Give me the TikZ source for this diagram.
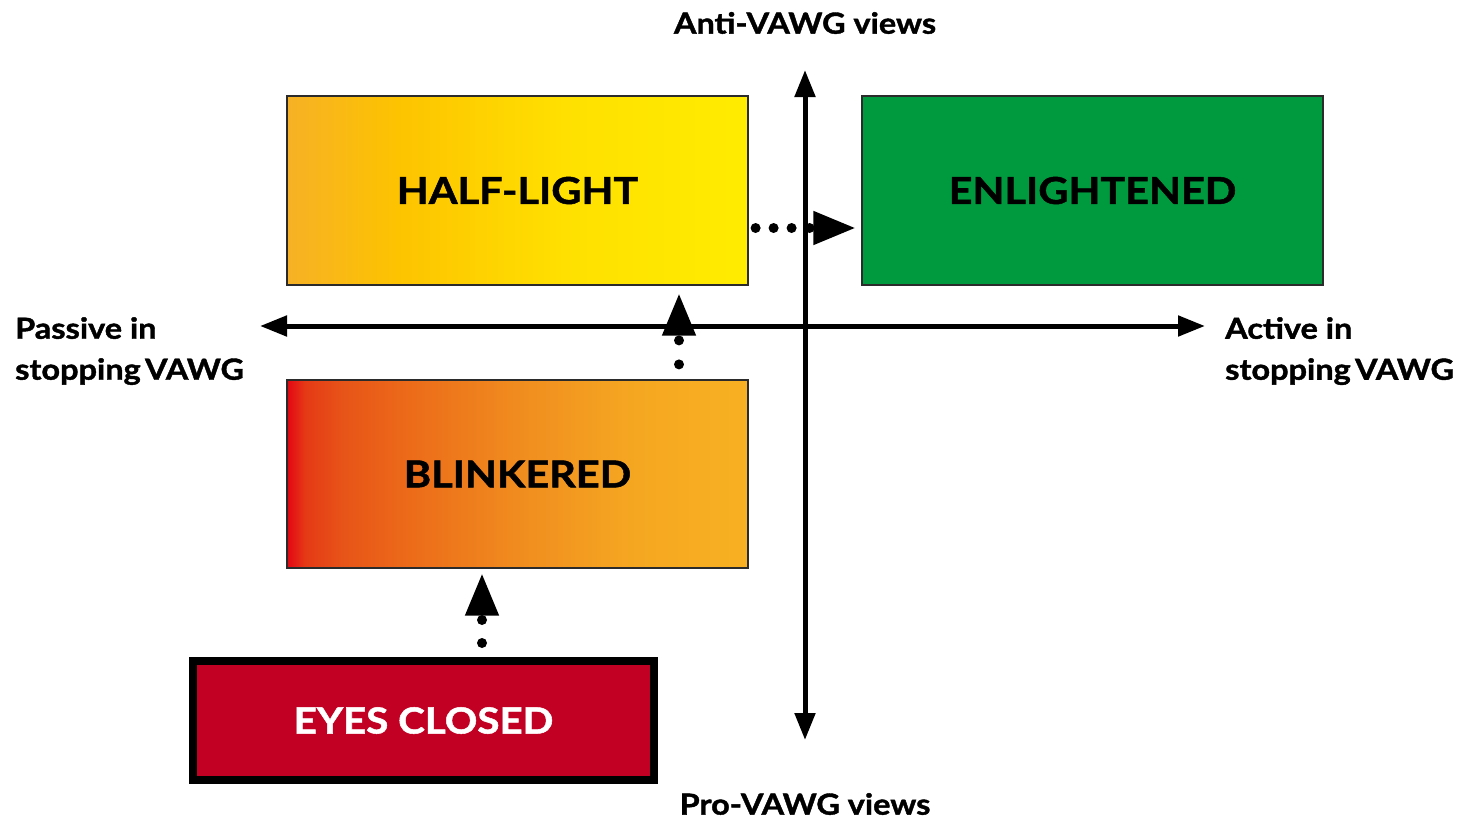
\documentclass[tikz,border=0pt]{standalone}
\usepackage{fontspec}
\setmainfont{Lato}[FakeStretch=1.12, BoldFeatures={FakeBold=1.4}]
\usetikzlibrary{arrows.meta}

\definecolor{hlA}{HTML}{F7B126}
\definecolor{hlB}{HTML}{FDC300}
\definecolor{hlC}{HTML}{FFE000}
\definecolor{hlD}{HTML}{FFEC00}
\definecolor{blA}{HTML}{E30613}
\definecolor{blB}{HTML}{E53A16}
\definecolor{blC}{HTML}{E75418}
\definecolor{blD}{HTML}{EC6A19}
\definecolor{blE}{HTML}{F08C1F}
\definecolor{blF}{HTML}{F5A621}
\definecolor{blG}{HTML}{F8B122}
\definecolor{enGreen}{HTML}{009A3E}
\definecolor{ecRed}{HTML}{C20024}
\definecolor{edge}{HTML}{2B2B2B}

% horizontal fades for the two graded boxes
\pgfdeclarehorizontalshading{halflight}{100bp}{color(0bp)=(hlA); color(25bp)=(hlA);
  color(37bp)=(hlB); color(55bp)=(hlC); color(75bp)=(hlD); color(100bp)=(hlD)}
\pgfdeclarehorizontalshading{blinkered}{100bp}{color(0bp)=(blA); color(25bp)=(blA);
  color(27bp)=(blB); color(31bp)=(blC); color(38bp)=(blD); color(50bp)=(blE);
  color(62bp)=(blF); color(75bp)=(blG); color(100bp)=(blG)}

\tikzset{
  stage/.style={rectangle, draw=edge, line width=1.2pt, minimum width=461pt,
    minimum height=189pt, inner sep=0pt,
    font=\fontsize{37}{40}\selectfont\bfseries},
  axis/.style={line width=5pt,
    {Triangle[length=27pt,width=20pt]}-{Triangle[length=27pt,width=20pt]}},
  dots/.style={line width=10pt, line cap=round, dash pattern=on 0pt off #1,
    -{Triangle[length=43pt,width=31pt]}},
  axislabel/.style={font=\fontsize{29}{41}\selectfont\bfseries, inner sep=0pt}
}

\begin{document}
\begin{tikzpicture}[x=1pt, y=-1pt]
\useasboundingbox (0,0) rectangle (1483,827);

% axes
\coordinate (vtop) at (805,70);
\coordinate (vbot) at (805,740);
\coordinate (hleft) at (260,326);
\coordinate (hright) at (1205,326);
\draw[axis] (vbot) -- (vtop);
\draw[axis] (hleft) -- (hright);

% axis labels
\node[axislabel] (anti) at (805,23) {Anti-VAWG views};
\node[axislabel] (pro) at (805,804) {Pro-VAWG views};
\node[axislabel, anchor=north west, align=left] (passive) at (15,317)
  {Passive in\\stopping\hspace{0.15em}VAWG};
\node[axislabel, anchor=north west, align=left] (active) at (1225,317)
  {Active in\\stopping\hspace{0.15em}VAWG};

% stages
\node[stage, shading=halflight] (hl) at (517.5,190.5) {HALF-LIGHT};
\node[stage, fill=enGreen] (en) at (1092.5,190.5) {ENLIGHTENED};
\node[stage, shading=blinkered, minimum height=188pt] (bl) at (517.5,474) {BLINKERED};
\node[stage, draw=black, line width=8pt, fill=ecRed, text=white,
  minimum width=461pt, minimum height=119pt,
  font=\fontsize{36}{38}\selectfont\bfseries] (ec) at (423.5,720.5) {EYES CLOSED};

% progress between stages
\coordinate (hlOut) at ([yshift=-37.5pt]hl.east);
\coordinate (blOut) at ([xshift=161.5pt]bl.north);
\coordinate (ecOut) at ([xshift=58.5pt]ec.north);
\draw[dots=18pt, shorten <=7pt, shorten >=5pt] (hlOut) -- (hlOut -| en.west);
\draw[dots=24pt, shorten <=15pt, shorten >=7pt] (blOut) -- (blOut |- hl.south);
\draw[dots=23pt, shorten <=14pt, shorten >=4pt] (ecOut) -- (ecOut |- bl.south);
\end{tikzpicture}
\end{document}
